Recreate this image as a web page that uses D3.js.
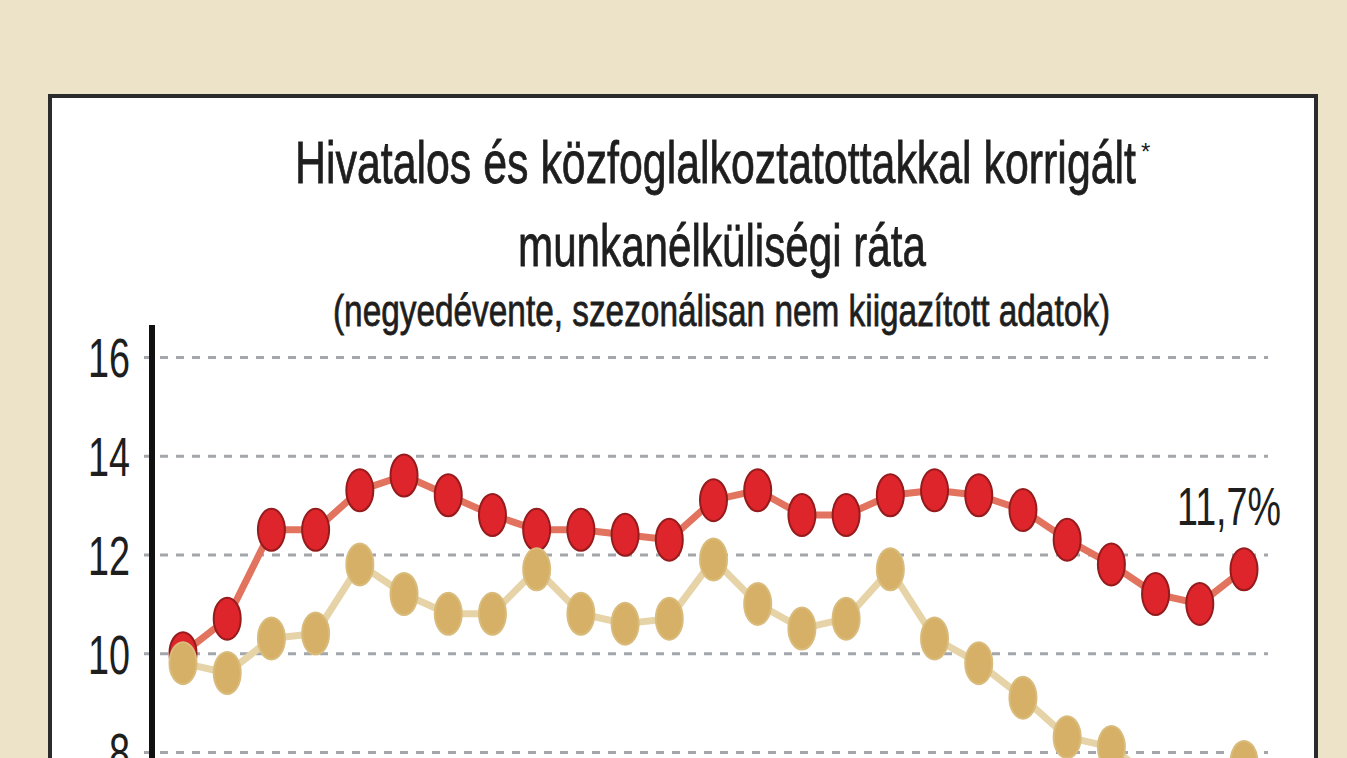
<!DOCTYPE html>
<html>
<head>
<meta charset="utf-8">
<script src="https://cdn.jsdelivr.net/npm/d3@7"></script>
<style>
  html, body { margin: 0; padding: 0; background: #ede3c9; overflow: hidden; }
  svg { display: block; }
  text { font-family: "Liberation Sans Narrow", "Liberation Sans", Arial, sans-serif; fill: #1e1e1e; }
</style>
</head>
<body>
<div id="chart"></div>
<script>
// quarters 2009 I. .. 2015 I.
const quarters = [
  "2009. I.", "2009. II.", "2009. III.", "2009. IV.",
  "2010. I.", "2010. II.", "2010. III.", "2010. IV.",
  "2011. I.", "2011. II.", "2011. III.", "2011. IV.",
  "2012. I.", "2012. II.", "2012. III.", "2012. IV.",
  "2013. I.", "2013. II.", "2013. III.", "2013. IV.",
  "2014. I.", "2014. II.", "2014. III.", "2014. IV.",
  "2015. I."
];
// corrected rate (with public workers), %
const corrected = [10.0, 10.7, 12.5, 12.5, 13.3, 13.6, 13.2, 12.8, 12.5, 12.5, 12.4, 12.3,
  13.1, 13.3, 12.8, 12.8, 13.2, 13.3, 13.2, 12.9, 12.3, 11.8, 11.2, 11.0, 11.7];
// official rate, %
const official = [9.8, 9.6, 10.3, 10.4, 11.8, 11.2, 10.8, 10.8, 11.7, 10.8, 10.6, 10.7,
  11.9, 11.0, 10.5, 10.7, 11.7, 10.3, 9.8, 9.1, 8.3, 8.1, 7.4, 7.3, 7.8];
const yTicks = [8, 10, 12, 14, 16];

const W = 1347, H = 758;
const d3 = window.d3;

const svg = d3.select("#chart").append("svg")
  .attr("width", W).attr("height", H);

svg.append("rect").attr("width", W).attr("height", H).attr("fill", "#ede3c9");

// white panel with dark frame
svg.append("rect")
  .attr("x", 50).attr("y", 96)
  .attr("width", 1266).attr("height", 800)
  .attr("fill", "#fff")
  .attr("stroke", "#2b2b2b")
  .attr("stroke-width", 4);

// titles
const titles = [
  { t: "Hivatalos és közfoglalkoztatottakkal korrigált", x: 295, y: 183, size: 60, len: 841 },
  { t: "munkanélküliségi ráta", x: 518, y: 266, size: 60, len: 408 },
  { t: "(negyedévente, szezonálisan nem kiigazított adatok)", x: 333, y: 326, size: 45, len: 777 }
];
svg.append("g").selectAll("text")
  .data(titles)
  .join("text")
  .attr("x", d => d.x).attr("y", d => d.y)
  .attr("textLength", d => d.len)
  .attr("lengthAdjust", "spacingAndGlyphs")
  .style("font-size", d => d.size + "px")
  .style("stroke", "#1e1e1e")
  .style("stroke-width", 0.8)
  .text(d => d.t);
svg.append("text")
  .attr("x", 1141).attr("y", 160)
  .style("font-size", "24px")
  .text("*");

// scales
const x = d3.scalePoint().domain(quarters).range([183, 1244]);
const y = d3.scaleLinear().domain([8, 16]).range([752, 357]);

// dashed grid
const grid = svg.append("g")
  .attr("transform", "translate(144,0)")
  .call(d3.axisLeft(y).tickValues(yTicks).tickSize(-(1268 - 144)).tickFormat(""));
grid.select(".domain").remove();
grid.selectAll(".tick line")
  .attr("stroke", "#a3a6aa")
  .attr("stroke-width", 3)
  .attr("stroke-dasharray", "8,8");

// tick labels
const yAxis = svg.append("g")
  .attr("transform", "translate(152,0)")
  .call(d3.axisLeft(y).tickValues(yTicks).tickSize(0).tickPadding(22).tickFormat(d3.format("d")));
yAxis.select(".domain").remove();
yAxis.selectAll(".tick text")
  .style("font-size", "55px")
  .attr("fill", "#1e1e1e")
  .attr("dy", "0.36em")
  .attr("textLength", d => String(d).length * 21)
  .attr("lengthAdjust", "spacingAndGlyphs");

// vertical axis line
svg.append("line")
  .attr("x1", 152).attr("x2", 152)
  .attr("y1", 325).attr("y2", 900)
  .attr("stroke", "#111")
  .attr("stroke-width", 6);

const line = d3.line().x((d, i) => x(quarters[i])).y(d => y(d));

const series = [
  { values: corrected, line: "#e2735f", fill: "#de252b", stroke: "#951b1d" },
  { values: official, line: "#e6d4a8", fill: "#d5b066", stroke: "#d9bb7c" }
];

series.forEach(s => {
  svg.append("path")
    .datum(s.values)
    .attr("d", line)
    .attr("fill", "none")
    .attr("stroke", s.line)
    .attr("stroke-width", 7)
    .attr("stroke-linejoin", "round");
});

series.forEach(s => {
  svg.append("g").selectAll("ellipse")
    .data(s.values)
    .join("ellipse")
    .attr("cx", (d, i) => x(quarters[i]))
    .attr("cy", d => y(d))
    .attr("rx", 13.5)
    .attr("ry", 21)
    .attr("fill", s.fill)
    .attr("stroke", s.stroke)
    .attr("stroke-width", 2);
});

// last value label
const last = corrected.length - 1;
svg.append("text")
  .attr("x", x(quarters[last]) - 15)
  .attr("y", 525)
  .attr("text-anchor", "middle")
  .attr("textLength", 104)
  .attr("lengthAdjust", "spacingAndGlyphs")
  .style("font-size", "54px")
  .text(d3.format(".1f")(corrected[last]).replace(".", ",") + "%");
</script>
</body>
</html>
